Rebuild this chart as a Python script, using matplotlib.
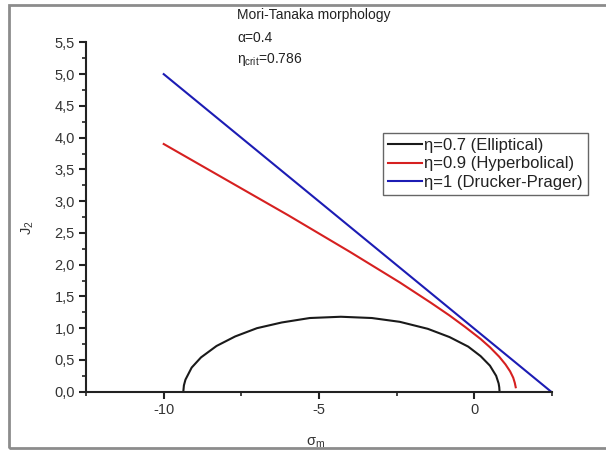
import numpy as np
import matplotlib
matplotlib.use("Agg")
import matplotlib.pyplot as plt
from matplotlib.ticker import MultipleLocator, FuncFormatter
from matplotlib.patches import Rectangle

plt.rcParams["font.family"] = ["Liberation Sans", "DejaVu Sans"]
plt.rcParams["mathtext.fontset"] = "custom"
plt.rcParams["mathtext.rm"] = "Liberation Sans"
plt.rcParams["mathtext.it"] = "Liberation Sans"
plt.rcParams["mathtext.default"] = "regular"

# ---------------- data ----------------

# eta = 0.7 (elliptical)
sigma_ell = [-9.37, -9.35, -9.3, -9.1, -8.8, -8.3, -7.7, -7.0, -6.2, -5.3, -4.3,
             -3.3, -2.4, -1.5, -0.8, -0.2, 0.2, 0.5, 0.7, 0.78, 0.8, 0.81]
j2_ell = [0.0, 0.10, 0.19, 0.38, 0.54, 0.72, 0.87, 1.00, 1.09, 1.16, 1.18,
          1.16, 1.10, 0.99, 0.86, 0.71, 0.56, 0.41, 0.25, 0.13, 0.07, 0.0]

# eta = 0.9 (hyperbolical)
sigma_hyp = [-10, -8, -6, -4, -2.4, -1.4, -0.8, -0.3, 0.2, 0.5,
             0.8, 1.0, 1.15, 1.25, 1.3, 1.33]
j2_hyp = [3.90, 3.34, 2.78, 2.20, 1.72, 1.40, 1.20, 1.02, 0.83, 0.70,
          0.55, 0.43, 0.32, 0.22, 0.14, 0.07]

# eta = 1 (Drucker-Prager)
sigma_dp = [-10, 2.47]
j2_dp = [5.0, 0.0]

labels = ["η=0.7 (Elliptical)", "η=0.9 (Hyperbolical)", "η=1 (Drucker-Prager)"]
colors = ["#1a1a1a", "#d62020", "#1c1cb4"]

# ---------------- figure ----------------

fig = plt.figure(figsize=(6.06, 4.51), dpi=100)
ax = fig.add_axes([0.142, 0.1315, 0.769, 0.7745])

ax.plot(sigma_ell, j2_ell, color=colors[0], lw=1.5, label=labels[0])
ax.plot(sigma_hyp, j2_hyp, color=colors[1], lw=1.5, label=labels[1])
ax.plot(sigma_dp, j2_dp, color=colors[2], lw=1.5, label=labels[2])

ax.set_xlim(-12.5, 2.5)
ax.set_ylim(0, 5.5)

ax.spines["top"].set_visible(False)
ax.spines["right"].set_visible(False)
for s in ("left", "bottom"):
    ax.spines[s].set_linewidth(1.5)
    ax.spines[s].set_color("#222222")

ax.xaxis.set_major_locator(MultipleLocator(5))
ax.xaxis.set_minor_locator(MultipleLocator(2.5))
ax.yaxis.set_major_locator(MultipleLocator(0.5))
ax.yaxis.set_minor_locator(MultipleLocator(0.25))
ax.yaxis.set_major_formatter(FuncFormatter(lambda v, p: f"{v:.1f}".replace(".", ",")))
ax.xaxis.set_major_formatter(FuncFormatter(lambda v, p: f"{v:.0f}"))

ax.tick_params(which="major", direction="out", length=5, width=1.5,
               color="#222222", labelsize=10.5, labelcolor="#333333", pad=3)
ax.tick_params(which="minor", direction="out", length=3, width=1.2,
               color="#222222")

ax.set_xlabel("σ$_m$", fontsize=10.5, color="#333333")
ax.set_ylabel("J$_2$", fontsize=10.5, color="#333333", rotation=90)
ax.xaxis.set_label_coords(0.493, -0.125)
ax.yaxis.set_label_coords(-0.107, 0.47)

fig.text(0.391, 0.967, "Mori-Tanaka morphology", fontsize=10,
         color="#222222", va="center")
fig.text(0.391, 0.916, "α=0.4", fontsize=10, color="#222222", va="center")
fig.text(0.391, 0.867, "η$_{crit}$=0.786", fontsize=10, color="#222222",
         va="center")

leg = ax.legend(loc="upper right", bbox_to_anchor=(0.970, 0.705),
                bbox_transform=fig.transFigure, borderaxespad=0,
                fontsize=12, frameon=True, fancybox=False, framealpha=1,
                edgecolor="#666666", handlelength=2.05, handletextpad=0.15,
                labelspacing=0.2, borderpad=0.3)
leg.get_frame().set_linewidth(1.0)
for t in leg.get_texts():
    t.set_color("#222222")

# outer frame of the figure
fig.patches.append(Rectangle((0.015, 0.007), 1.2, 0.982,
                             transform=fig.transFigure, fill=False,
                             edgecolor="#8c8c8c", linewidth=2))

fig.savefig("out.png", dpi=100)
